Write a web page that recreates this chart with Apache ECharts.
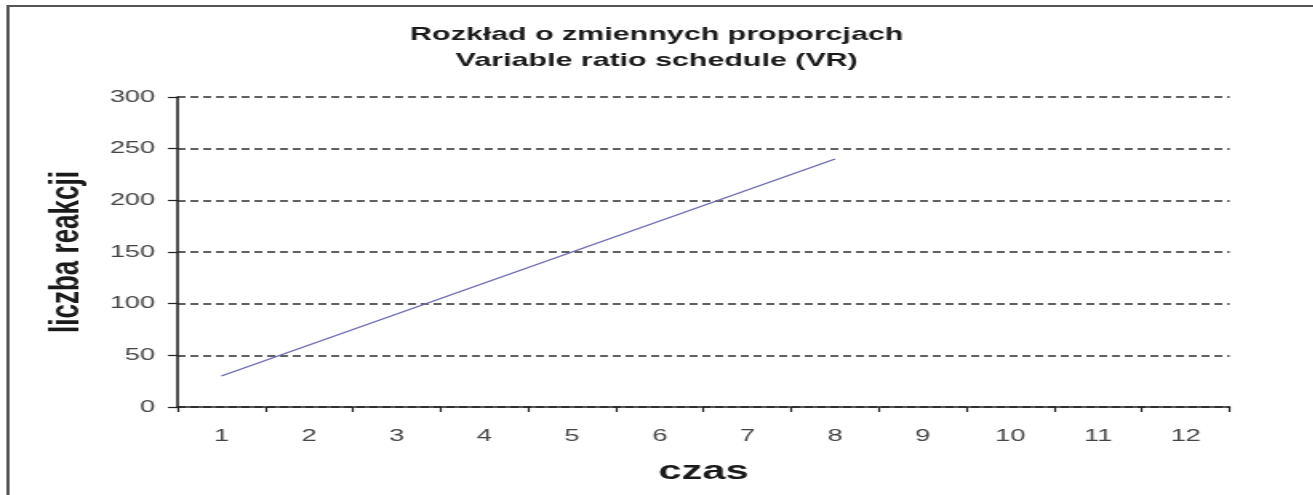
<!DOCTYPE html>
<html>
<head>
<meta charset="utf-8">
<script src="https://cdn.jsdelivr.net/npm/echarts@6/dist/echarts.min.js"></script>
<style>
  html, body { margin: 0; padding: 0; background: #ffffff; overflow: hidden; }
  #wrap { width: 1313px; height: 495px; overflow: hidden; position: relative; background: #ffffff; }
  #chart { width: 820.625px; height: 495px; transform: scaleX(1.6); transform-origin: 0 0; }
</style>
</head>
<body>
<div id="wrap"><div id="chart"></div></div>
<script>
// ---- data ----
const titleLines = ['Rozkład o zmiennych proporcjach', 'Variable ratio schedule (VR)'];
const categories = ['1', '2', '3', '4', '5', '6', '7', '8', '9', '10', '11', '12'];
const responses = [30, 60, 90, 120, 150, 180, 210, 240];
const yMin = 0, yMax = 300, yStep = 50;
const xName = 'czas';
const yName = 'liczba reakcji';

const FONT = 'Liberation Sans, Arial, Helvetica, sans-serif';
const chart = echarts.init(document.getElementById('chart'));
chart.setOption({
  backgroundColor: '#ffffff',
  animation: false,
  title: {
    text: titleLines.join('\n'),
    left: 'center',
    top: 17,
    textStyle: { fontFamily: FONT, fontSize: 19, fontWeight: 'bold', color: '#1a1a1a', lineHeight: 26 }
  },
  graphic: [{
    type: 'rect',
    shape: { x: 5, y: 6, width: 900, height: 700 },
    style: { fill: 'none', stroke: '#555555', lineWidth: 2 },
    silent: true
  }],
  grid: { left: 111, right: 52.5, top: 97, bottom: 88, containLabel: false },
  xAxis: {
    type: 'category',
    data: categories,
    boundaryGap: true,
    name: xName,
    nameLocation: 'middle',
    nameGap: 52,
    nameTextStyle: { fontFamily: FONT, fontSize: 26, fontWeight: 'bold', color: '#1a1a1a' },
    axisLine: { lineStyle: { color: '#222222', width: 1.5 } },
    axisTick: { show: true, alignWithLabel: false, length: 5, lineStyle: { color: '#222222', width: 1.2 } },
    axisLabel: { margin: 21, fontFamily: FONT, fontSize: 17, color: '#444444' },
    splitLine: { show: false }
  },
  yAxis: {
    type: 'value',
    min: yMin, max: yMax, interval: yStep,
    name: yName,
    nameLocation: 'middle',
    nameGap: 56,
    nameRotate: 90,
    nameTextStyle: { fontFamily: FONT, fontSize: 26, fontWeight: 'bold', color: '#1a1a1a' },
    axisLine: { show: true, lineStyle: { color: '#222222', width: 1.6 } },
    axisTick: { show: true, length: 6, lineStyle: { color: '#222222', width: 1.2 } },
    axisLabel: { margin: 14, fontFamily: FONT, fontSize: 17, color: '#444444' },
    splitLine: { show: true, lineStyle: { color: '#2e2e2e', width: 1.5, type: [5, 3] } }
  },
  series: [{
    type: 'line',
    data: responses,
    showSymbol: false,
    symbol: 'none',
    lineStyle: { color: '#6a6ab0', width: 1.4 },
    z: 3
  }]
});
</script>
</body>
</html>
